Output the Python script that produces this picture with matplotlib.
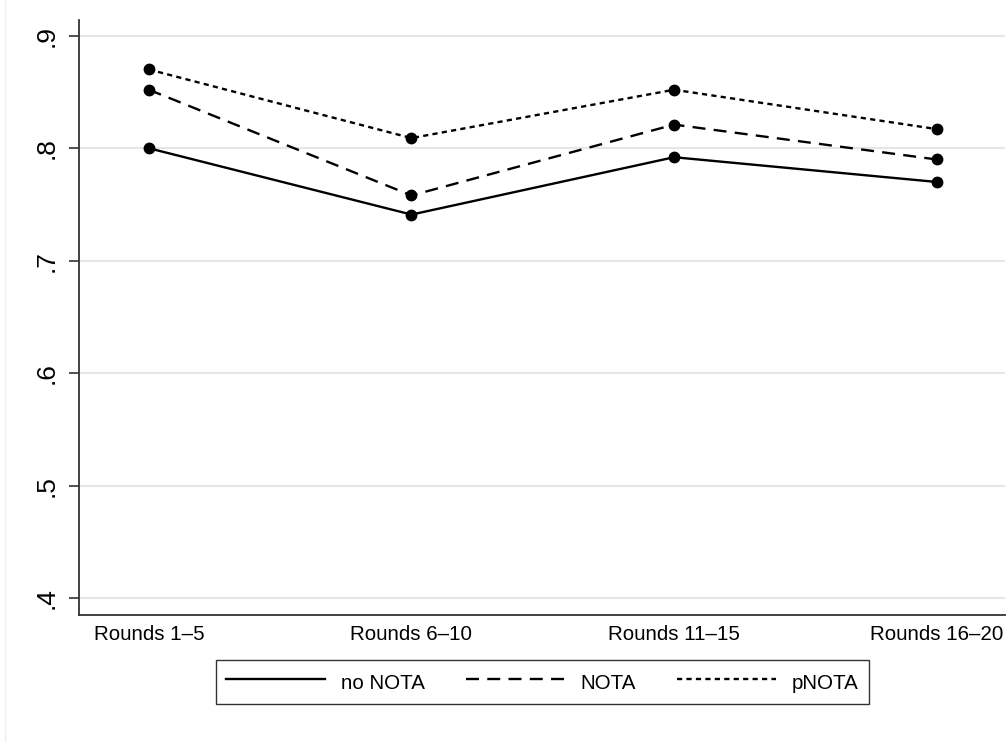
import matplotlib

matplotlib.use("Agg")
import matplotlib.pyplot as plt
from matplotlib.lines import Line2D

plt.rcParams["font.family"] = ["Liberation Sans", "DejaVu Sans"]

# share of ... by block of rounds, per treatment
rounds = ["Rounds 1\u20135", "Rounds 6\u201310", "Rounds 11\u201315", "Rounds 16\u201320"]
no_nota = [0.800, 0.741, 0.792, 0.770]
nota = [0.852, 0.758, 0.821, 0.790]
pnota = [0.870, 0.809, 0.852, 0.817]
yticks = [0.4, 0.5, 0.6, 0.7, 0.8, 0.9]
ytick_labels = [".4", ".5", ".6", ".7", ".8", ".9"]

W, H = 1008, 742
fig = plt.figure(figsize=(W / 100, H / 100), dpi=100)
ax = fig.add_axes([79 / W, 1 - 615 / H, (1005 - 79) / W, (615 - 20) / H])

x = list(range(1, len(rounds) + 1))
series = [
    (no_nota, "no NOTA", "-"),
    (nota, "NOTA", (0, (5.5, 3.5))),
    (pnota, "pNOTA", (0, (2.2, 1.8))),
]
for vals, lab, ls in series:
    ax.plot(x, vals, color="black", linestyle=ls, linewidth=1.7,
            marker="o", markersize=7.5, label=lab)

ax.set_xlim(0.734, 4.26)
ax.set_ylim(0.385, 0.914)
ax.set_xticks(x)
ax.set_xticklabels(rounds, fontsize=14.8)
ax.set_yticks(yticks)
ax.set_yticklabels(ytick_labels, fontsize=19, rotation=90, va="center")
ax.grid(axis="y", color="#e6e6e6", linewidth=1.5)
ax.set_axisbelow(True)
for s in ["top", "right"]:
    ax.spines[s].set_visible(False)
for s in ["left", "bottom"]:
    ax.spines[s].set_color("#333333")
    ax.spines[s].set_linewidth(1.3)
ax.tick_params(axis="y", direction="out", length=7.5, width=1.2, color="#333333", pad=7)
ax.tick_params(axis="x", length=0, pad=7)

leg = fig.legend(loc="center", bbox_to_anchor=(542.5 / W, 1 - 682 / H), ncol=3,
                 fontsize=14.8, frameon=True, fancybox=False, handlelength=4.8,
                 handleheight=1.45, handletextpad=0.78, columnspacing=2.0,
                 borderpad=0.5)
leg.get_frame().set_edgecolor("black")
leg.get_frame().set_linewidth(1.0)
for h in leg.legend_handles:
    h.set_marker("")

fig.add_artist(Line2D([4.5 / W, 4.5 / W], [0, 1], color="#eeeeee", linewidth=1.0))

fig.savefig("out.png", dpi=100)
